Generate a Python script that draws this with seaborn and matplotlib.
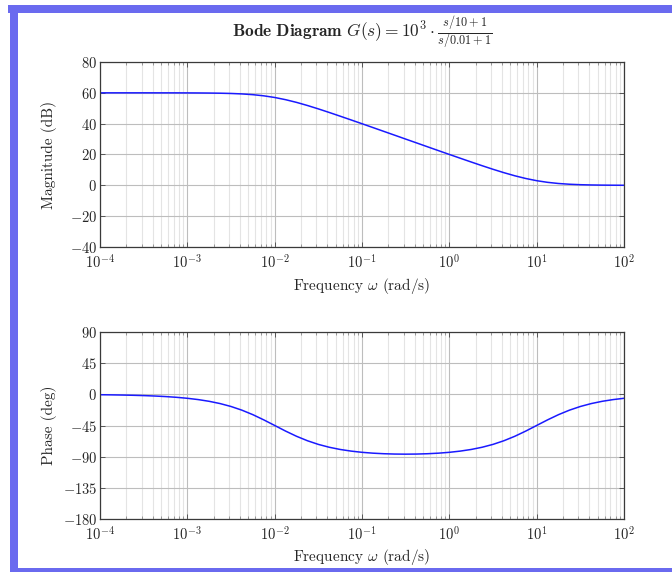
import matplotlib
matplotlib.use("Agg")
import matplotlib.pyplot as plt
import matplotlib.ticker as mticker
from matplotlib.patches import Rectangle
import numpy as np
import pandas as pd
import seaborn as sns

# Frequency samples (log10 of rad/s), eighth-decade spacing from 1e-4 to 1e2
log_omega = [-4.0, -3.875, -3.75, -3.625, -3.5, -3.375, -3.25, -3.125,
             -3.0, -2.875, -2.75, -2.625, -2.5, -2.375, -2.25, -2.125,
             -2.0, -1.875, -1.75, -1.625, -1.5, -1.375, -1.25, -1.125,
             -1.0, -0.875, -0.75, -0.625, -0.5, -0.375, -0.25, -0.125,
             0.0, 0.125, 0.25, 0.375, 0.5, 0.625, 0.75, 0.875,
             1.0, 1.125, 1.25, 1.375, 1.5, 1.625, 1.75, 1.875, 2.0]

# Magnitude (dB) of G(s) = 1e3 (s/10+1)/(s/0.01+1)
magnitude_db = [60.00, 60.00, 60.00, 60.00, 60.00, 59.99, 59.99, 59.98,
                59.96, 59.92, 59.86, 59.76, 59.59, 59.29, 58.81, 58.06,
                56.99, 55.56, 53.81, 51.79, 49.59, 47.26, 44.86, 42.42,
                39.96, 37.48, 34.99, 32.50, 30.00, 27.51, 25.01, 22.52,
                20.04, 17.58, 15.14, 12.74, 10.41, 8.21, 6.19, 4.44,
                3.01, 1.94, 1.19, 0.71, 0.41, 0.24, 0.14, 0.08, 0.04]

# Phase (deg)
phase_deg = [-0.57, -0.76, -1.02, -1.36, -1.81, -2.42, -3.22, -4.29,
             -5.71, -7.60, -10.08, -13.34, -17.55, -22.87, -29.35, -36.86,
             -44.94, -53.06, -60.55, -66.99, -72.27, -76.42, -79.60, -81.97,
             -83.72, -84.95, -85.76, -86.23, -86.38, -86.23, -85.76, -84.95,
             -83.72, -81.97, -79.60, -76.42, -72.27, -66.99, -60.55, -53.06,
             -44.94, -36.86, -29.35, -22.87, -17.55, -13.34, -10.08, -7.60, -5.71]

mag_ticks = [-40, -20, 0, 20, 40, 60, 80]
phase_ticks = [-180, -135, -90, -45, 0, 45, 90]
freq_ticks = [1e-4, 1e-3, 1e-2, 1e-1, 1e0, 1e1, 1e2]

df = pd.DataFrame({
    "omega": 10.0 ** np.array(log_omega),
    "mag": magnitude_db,
    "phase": phase_deg,
})

sns.set_style("ticks")
plt.rcParams.update({
    "font.family": ["cmr10", "DejaVu Serif"],
    "mathtext.fontset": "cm",
    "axes.formatter.use_mathtext": True,
    "axes.unicode_minus": True,
    "xtick.direction": "in",
    "ytick.direction": "in",
    "xtick.top": True,
    "ytick.right": True,
    "axes.edgecolor": "#3a3a3a",
    "axes.linewidth": 0.9,
})

W, H = 672, 574
fig = plt.figure(figsize=(W / 100, H / 100), dpi=100)

# Frame decoration around the page
frame_color = "#6a6aef"
fig.add_artist(Rectangle((8 / W, 1 - 13 / H), 1 - 8 / W, 8 / H,
                         transform=fig.transFigure, color=frame_color, lw=0))
fig.add_artist(Rectangle((10 / W, 1 - 572 / H), 8 / W, 567 / H,
                         transform=fig.transFigure, color=frame_color, lw=0))
fig.add_artist(Rectangle((10 / W, 1 - 572 / H), 1 - 10 / W, 4 / H,
                         transform=fig.transFigure, color=frame_color, lw=0))

ax1 = fig.add_axes([100 / W, 1 - 247 / H, 524 / W, 185 / H])
ax2 = fig.add_axes([100 / W, 1 - 519 / H, 524 / W, 187 / H])

line_color = "#1a1aff"
sns.lineplot(data=df, x="omega", y="mag", ax=ax1, color=line_color, lw=1.1)
sns.lineplot(data=df, x="omega", y="phase", ax=ax2, color=line_color, lw=1.1)

for ax, yt, ylab in [(ax1, mag_ticks, "Magnitude (dB)"),
                     (ax2, phase_ticks, "Phase (deg)")]:
    ax.set_xscale("log")
    ax.set_xlim(freq_ticks[0], freq_ticks[-1])
    ax.set_ylim(yt[0], yt[-1])
    ax.set_yticks(yt)
    ax.xaxis.set_major_locator(mticker.FixedLocator(freq_ticks))
    ax.xaxis.set_minor_locator(mticker.LogLocator(base=10, subs=np.arange(2, 10), numticks=20))
    ax.xaxis.set_minor_formatter(mticker.NullFormatter())
    ax.yaxis.set_minor_locator(mticker.NullLocator())
    ax.grid(which="major", color="#bdbdbd", lw=0.8)
    ax.grid(which="minor", axis="x", color="#e4e4e4", lw=0.8)
    ax.set_axisbelow(True)
    ax.tick_params(which="major", length=3.5, width=0.7, color="#555555",
                   labelsize=10.5)
    ax.tick_params(axis="y", which="major", pad=2)
    ax.tick_params(axis="x", which="major", pad=5)
    ax.tick_params(which="minor", length=2, width=0.5, color="#777777")
    ax.set_xlabel(r"Frequency $\omega$ (rad/s)", fontsize=11)
    ax.set_ylabel(ylab, fontsize=11)
    ax.yaxis.set_label_coords(-0.082, 0.5)

ax1.xaxis.set_label_coords(0.5, -0.155)
ax2.xaxis.set_label_coords(0.5, -0.148)

fig.text(362 / W, 1 - 33 / H,
         r"$\mathbf{Bode\ Diagram}\ G(s) = 10^3 \cdot \frac{s/10+1}{s/0.01+1}$",
         ha="center", va="center", fontsize=12.5)

fig.savefig("out.png", dpi=100)
